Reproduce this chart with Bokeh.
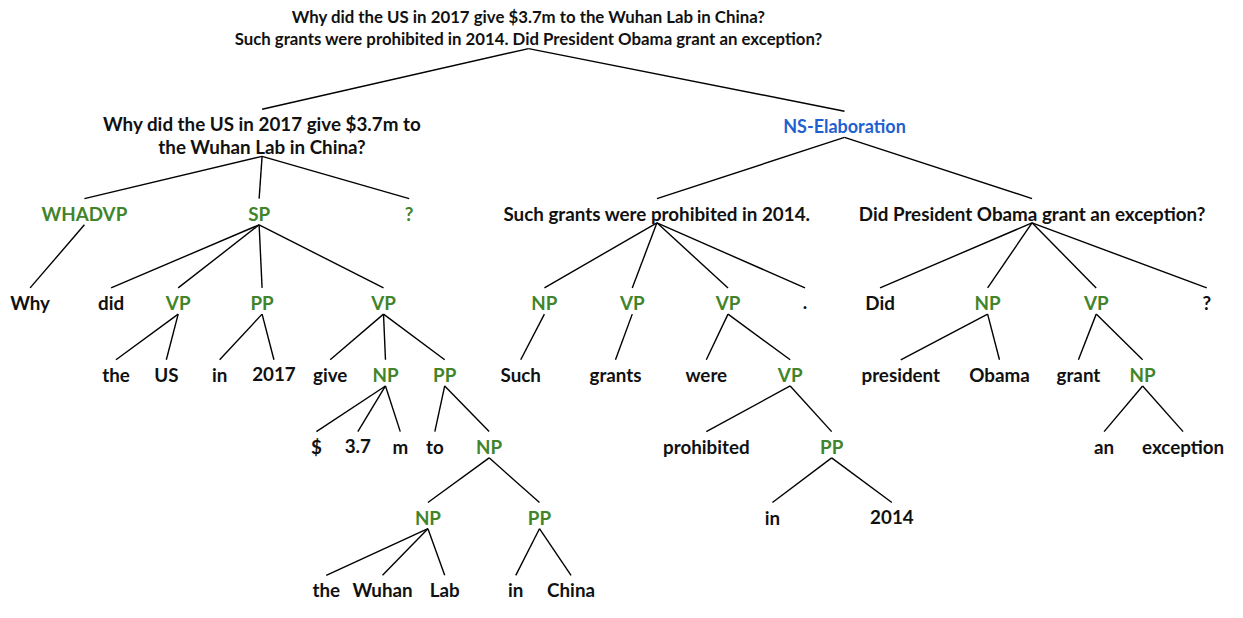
from bokeh.plotting import figure
from bokeh.models import ColumnDataSource, Range1d
from bokeh.core.properties import value
from bokeh.embed import file_html
from bokeh.resources import INLINE

# ---- tree data: label, position (x, first-line y), kind, parent index ----
labels = [
    "Why did the US in 2017 give $3.7m to the Wuhan Lab in China?\nSuch grants were prohibited in 2014. Did President Obama grant an exception?",
    "Why did the US in 2017 give $3.7m to\nthe Wuhan Lab in China?",
    "NS-Elaboration",
    "WHADVP", "SP", "?",
    "Such grants were prohibited in 2014.",
    "Did President Obama grant an exception?",
    "Why", "did", "VP", "PP", "VP",
    "NP", "VP", "VP", ".",
    "Did", "NP", "VP", "?",
    "the", "US", "in", "2017", "give", "NP", "PP",
    "Such", "grants", "were", "VP",
    "president", "Obama", "grant", "NP",
    "$", "3.7", "m", "to", "NP",
    "prohibited", "PP",
    "an", "exception",
    "NP", "PP", "in", "2014",
    "the", "Wuhan", "Lab", "in", "China",
]
node_x = [
    535,
    265,
    855,
    85, 262, 414,
    665,
    1045,
    30, 112, 180, 265, 388,
    551, 640, 737, 815,
    891, 1000, 1110, 1222,
    117, 168, 222, 277, 334, 390, 450,
    527, 623, 715, 800,
    912, 1012, 1092, 1157,
    320, 362, 405, 440, 495,
    715, 842,
    1118, 1198,
    433, 546, 782, 903,
    330, 387, 450, 522, 578,
]
node_y = [
    17,
    128,
    130,
    220, 220, 220,
    220,
    220,
    312, 312, 312, 312, 312,
    312, 312, 312, 312,
    312, 312, 312, 312,
    386, 386, 386, 386, 386, 386, 386,
    386, 386, 386, 386,
    386, 386, 386, 386,
    460, 460, 460, 460, 460,
    460, 460,
    460, 460,
    533, 533, 533, 533,
    608, 608, 608, 608, 608,
]
kinds = [
    "root",
    "sent",
    "rel",
    "phrase", "phrase", "phrase",
    "sent",
    "sent",
    "word", "word", "phrase", "phrase", "phrase",
    "phrase", "phrase", "phrase", "word",
    "word", "phrase", "phrase", "word",
    "word", "word", "word", "word", "word", "phrase", "phrase",
    "word", "word", "word", "phrase",
    "word", "word", "word", "phrase",
    "word", "word", "word", "word", "phrase",
    "word", "phrase",
    "word", "word",
    "phrase", "phrase", "word", "word",
    "word", "word", "word", "word", "word",
]
parents = [
    -1,
    0,
    0,
    1, 1, 1,
    2,
    2,
    3, 4, 4, 4, 4,
    6, 6, 6, 6,
    7, 7, 7, 7,
    10, 10, 11, 11, 12, 12, 12,
    13, 14, 15, 15,
    18, 18, 19, 19,
    26, 26, 26, 27, 27,
    31, 31,
    35, 35,
    40, 40, 42, 42,
    45, 45, 45, 46, 46,
]

# ---- styling ----
COLORS = {"root": "#111111", "sent": "#111111", "word": "#111111",
          "rel": "#1f5fd0", "phrase": "#41842a"}
SIZES = {"root": "16.8px", "sent": "18.8px", "word": "18.8px",
         "rel": "18px", "phrase": "18.8px"}
FONT = "Lato"
LINE_H = 23.5
TOP_GAP = 15
BOTTOM_GAP = 12

tx, ty, tt, tc, ts = [], [], [], [], []
for lab, x, y, k in zip(labels, node_x, node_y, kinds):
    for i, line in enumerate(lab.split("\n")):
        tx.append(x)
        ty.append(y + i * LINE_H)
        tt.append(line)
        tc.append(COLORS[k])
        ts.append(SIZES[k])

xs, ys = [], []
for i, par in enumerate(parents):
    if par < 0:
        continue
    nl = labels[par].count("\n")
    gap = BOTTOM_GAP - 2 if kinds[par] in ("root", "sent") else BOTTOM_GAP
    xs.append([node_x[par], node_x[i]])
    ys.append([node_y[par] + nl * LINE_H + gap, node_y[i] - TOP_GAP])

p = figure(width=1227, height=602, output_backend="svg", toolbar_location=None,
           x_range=Range1d(0, 1243), y_range=Range1d(621, 1),
           min_border=0, outline_line_color=None)
p.axis.visible = False
p.grid.visible = False
p.background_fill_color = "white"
p.border_fill_color = "white"

p.multi_line(xs=xs, ys=ys, line_color="black", line_width=1.4)

src = ColumnDataSource(dict(x=tx, y=ty, text=tt, color=tc, size=ts))
p.text(x="x", y="y", text="text", source=src, text_color="color",
       text_font=value(FONT), text_font_style="bold", text_font_size="size",
       text_align="center", text_baseline="middle")

open("out.html", "w").write(file_html(p, INLINE))
